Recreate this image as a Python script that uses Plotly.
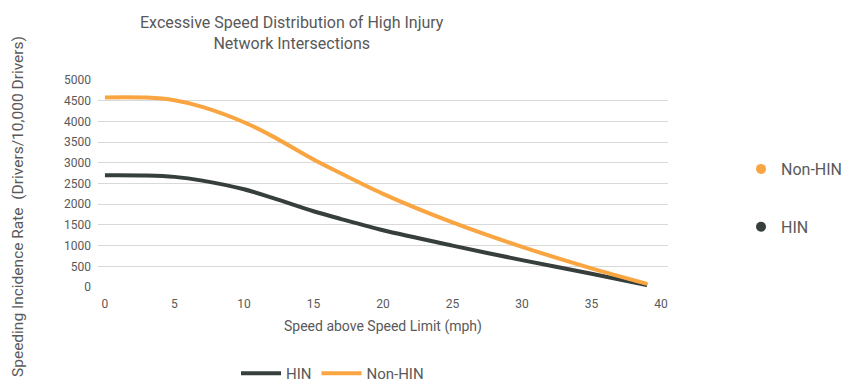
import plotly.graph_objects as go

# Speed above the posted limit (mph)
speed_hin = [0, 3, 5, 7, 10, 12, 15, 17, 20, 25, 30, 35, 39]
speed_non_hin = [0, 3, 5, 7, 10, 12, 15, 17, 20, 25, 30, 35, 39]

# Speeding incidence rate (drivers per 10,000 drivers)
rate_hin = [2700, 2695, 2660, 2570, 2360, 2160, 1830, 1640, 1370, 1000, 650, 320, 45]
rate_non_hin = [4580, 4575, 4510, 4350, 3980, 3650, 3080, 2740, 2250, 1560, 970, 450, 75]

series_names = ["HIN", "Non-HIN"]
series_colors = ["#363F3C", "#F9A541"]

x_ticks = [0, 5, 10, 15, 20, 25, 30, 35, 40]
y_ticks = [0, 500, 1000, 1500, 2000, 2500, 3000, 3500, 4000, 4500, 5000]

FONT = "Roboto"
TEXT = "#595959"

W, H = 856, 384
L, R, T, B = 98, 188, 80, 97
plot_w = W - L - R
plot_h = H - T - B


def px_x(p):
    return (p - L) / plot_w


def px_y(p):
    return (H - B - p) / plot_h


fig = go.Figure()

for name, xs, ys, col in [
    (series_names[0], speed_hin, rate_hin, series_colors[0]),
    (series_names[1], speed_non_hin, rate_non_hin, series_colors[1]),
]:
    fig.add_trace(go.Scatter(
        x=xs, y=ys, name=name, mode="lines",
        line=dict(color=col, width=4, shape="spline", smoothing=0.8),
        legend="legend",
    ))

# Marker-style key on the right
for i, (name, col) in enumerate([(series_names[1], series_colors[1]),
                                  (series_names[0], series_colors[0])]):
    fig.add_trace(go.Scatter(
        x=[None], y=[None], name=name, mode="markers",
        marker=dict(color=col, size=10, symbol="circle"),
        legend="legend2", legendgroup=f"g{i}",
    ))

fig.update_layout(
    width=W, height=H,
    margin=dict(l=L, r=R, t=T, b=B, autoexpand=False),
    paper_bgcolor="white", plot_bgcolor="white",
    font=dict(family=FONT, color=TEXT, size=12),
    showlegend=True,
    legend=dict(
        orientation="h", xref="container", yref="container",
        x=236 / W, y=1 - 357 / H, xanchor="left", yanchor="top",
        font=dict(family=FONT, size=15, color=TEXT),
        itemwidth=40, bgcolor="rgba(0,0,0,0)",
    ),
    legend2=dict(
        xref="container", yref="container",
        x=741 / W, y=1 - 152 / H, xanchor="left", yanchor="top",
        font=dict(family=FONT, size=16, color=TEXT),
        traceorder="grouped", tracegroupgap=34, bgcolor="rgba(0,0,0,0)",
    ),
    xaxis=dict(
        range=[-0.5, 40.5], tickvals=x_ticks, showgrid=False, zeroline=False,
        showline=False, ticks="", tickfont=dict(family=FONT, size=12, color=TEXT),
        ticklabelstandoff=8,
    ),
    yaxis=dict(
        range=[0, 5000], tickvals=y_ticks, showgrid=True, gridcolor="#D9D9D9",
        gridwidth=1, zeroline=False, showline=False, ticks="",
        tickfont=dict(family=FONT, size=12, color=TEXT), ticklabelstandoff=6,
    ),
    annotations=[
        dict(text="Excessive Speed Distribution of High Injury<br>Network Intersections",
             x=px_x(292), y=px_y(33), xref="paper", yref="paper",
             showarrow=False, xanchor="center", yanchor="middle",
             font=dict(family=FONT, size=16, color=TEXT)),
        dict(text="Speed above Speed Limit (mph)",
             x=px_x(383), y=px_y(326), xref="paper", yref="paper",
             showarrow=False, xanchor="center", yanchor="middle",
             font=dict(family=FONT, size=14, color=TEXT)),
        dict(text="Speeding Incidence Rate  (Drivers/10,000 Drivers)",
             x=px_x(18), y=px_y(207), xref="paper", yref="paper",
             showarrow=False, xanchor="center", yanchor="middle", textangle=-90,
             font=dict(family=FONT, size=15.5, color=TEXT)),
    ],
)

fig.write_html("out.html")
